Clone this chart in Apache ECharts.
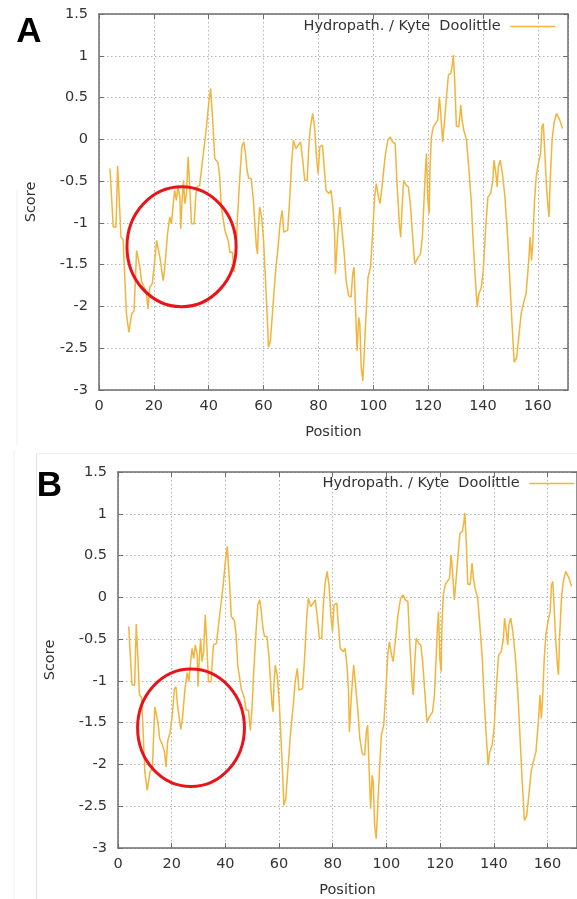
<!DOCTYPE html>
<html>
<head>
<meta charset="utf-8">
<script src="https://cdn.jsdelivr.net/npm/echarts@6/dist/echarts.min.js"></script>
<style>
  html, body { margin: 0; padding: 0; background: #ffffff; }
  #chart { width: 577px; height: 899px; }
</style>
</head>
<body>
<div id="chart"></div>
<script>
// ---- Data ----
const seriesName = 'Hydropath. / Kyte  Doolittle';

const positionsA = [4.0,5.2,6.2,6.8,7.3,8.0,8.8,10.0,10.9,11.9,12.8,13.7,14.3,14.9,15.5,16.5,17.3,17.9,18.5,19.4,20.1,21.0,21.6,22.2,23.4,24.0,25.0,25.8,26.4,27.2,27.6,28.2,28.8,29.5,29.8,30.3,30.8,31.3,31.9,32.5,33.1,33.7,34.7,35.2,35.6,36.7,37.9,39.2,40.0,40.7,41.6,42.2,43.4,44.0,44.6,45.9,47.1,47.7,48.6,49.3,50.0,50.5,51.5,52.1,52.8,53.4,54.0,54.6,55.5,56.3,56.9,57.4,57.8,58.1,58.6,59.3,60.0,60.6,61.3,61.8,62.5,63.4,64.3,65.3,66.0,66.8,67.4,68.1,68.8,69.5,70.3,70.9,71.8,72.5,73.5,74.3,75.0,75.9,76.5,77.1,77.9,78.6,79.3,79.9,80.5,81.5,82.1,82.8,83.8,84.6,85.3,85.9,86.2,87.0,87.8,88.5,89.4,90.1,91.0,91.9,92.5,93.0,93.5,94.1,94.7,95.1,95.6,96.2,96.8,97.5,98.1,99.0,99.9,100.5,101.1,101.9,102.5,103.3,104.3,105.3,106.2,107.0,108.0,108.6,109.5,110.0,110.5,111.1,112.0,112.8,113.5,114.2,115.1,116.0,117.2,117.9,118.4,119.0,119.4,119.9,120.4,120.7,121.2,121.9,122.7,123.5,124.1,124.6,125.3,125.9,126.8,127.4,128.3,128.9,129.2,129.7,130.3,131.2,131.9,132.4,133.0,134.0,134.8,135.7,136.4,137.1,137.9,138.5,139.4,140.1,141.0,141.8,142.8,143.6,144.0,144.7,145.2,145.6,146.3,147.1,148.0,149.0,149.8,150.6,151.4,152.3,153.0,153.9,154.7,155.7,156.6,157.2,157.7,158.2,158.8,159.4,160.2,161.0,161.5,162.0,162.5,163.1,163.7,164.1,164.5,165.2,165.9,166.8,167.4,168.0,169.0];
const scoresA = [-0.35,-1.05,-1.05,-0.32,-0.65,-1.17,-1.20,-2.09,-2.31,-2.09,-2.05,-1.33,-1.31,-1.53,-1.70,-1.77,-1.85,-2.03,-1.77,-1.73,-1.53,-1.21,-1.19,-1.41,-1.69,-1.53,-1.13,-0.93,-1.01,-0.73,-0.61,-0.73,-0.57,-0.69,-1.07,-0.73,-0.49,-0.77,-0.65,-0.21,-0.57,-1.01,-1.01,-0.73,-0.57,-0.55,-0.21,0.15,0.43,0.61,0.15,-0.23,-0.28,-0.45,-0.81,-1.09,-1.21,-1.35,-1.35,-1.59,-1.29,-0.93,-0.37,-0.09,-0.03,-0.17,-0.37,-0.47,-0.47,-0.73,-1.05,-1.29,-1.37,-1.05,-0.81,-0.93,-1.21,-1.61,-2.09,-2.49,-2.41,-2.01,-1.61,-1.29,-1.01,-0.85,-1.11,-1.13,-1.09,-0.73,-0.25,-0.01,-0.11,-0.09,-0.03,-0.25,-0.49,-0.49,-0.09,0.15,0.31,0.15,-0.21,-0.41,-0.09,-0.07,-0.33,-0.61,-0.65,-0.61,-0.81,-1.13,-1.61,-1.15,-0.81,-1.05,-1.37,-1.69,-1.87,-1.89,-1.61,-1.53,-2.01,-2.53,-2.13,-2.21,-2.73,-2.89,-2.49,-2.01,-1.65,-1.53,-1.05,-0.69,-0.53,-0.69,-0.77,-0.53,-0.21,-0.01,0.03,-0.03,-0.05,-0.49,-1.01,-1.17,-0.81,-0.49,-0.55,-0.57,-0.77,-1.09,-1.49,-1.43,-1.37,-1.17,-0.81,-0.37,-0.17,-0.73,-0.89,-0.33,0.03,0.15,0.19,0.23,0.51,0.31,-0.03,0.19,0.55,0.77,0.79,0.91,1.01,0.70,0.16,0.15,0.41,0.23,0.11,-0.01,-0.33,-0.73,-1.21,-1.61,-2.01,-1.85,-1.77,-1.57,-1.05,-0.69,-0.65,-0.49,-0.25,-0.41,-0.57,-0.33,-0.25,-0.41,-0.69,-1.17,-1.69,-2.21,-2.67,-2.61,-2.59,-2.09,-1.97,-1.85,-1.49,-1.17,-1.45,-1.21,-0.73,-0.45,-0.29,-0.17,0.15,0.19,-0.13,-0.53,-0.81,-0.93,-0.49,-0.01,0.19,0.31,0.33,0.23,0.13];

const positionsB = positionsA.slice();
const scoresB = [-0.35,-1.05,-1.05,-0.32,-0.65,-1.17,-1.20,-2.09,-2.31,-2.09,-2.05,-1.31,-1.29,-1.50,-1.69,-1.76,-1.85,-2.03,-1.72,-1.62,-1.45,-1.10,-1.07,-1.30,-1.58,-1.45,-1.08,-0.90,-1.01,-0.73,-0.61,-0.73,-0.57,-0.69,-1.07,-0.73,-0.49,-0.77,-0.65,-0.21,-0.57,-1.01,-1.01,-0.73,-0.57,-0.55,-0.21,0.15,0.43,0.61,0.15,-0.23,-0.28,-0.45,-0.81,-1.09,-1.21,-1.35,-1.35,-1.59,-1.29,-0.93,-0.37,-0.09,-0.03,-0.17,-0.37,-0.47,-0.47,-0.73,-1.05,-1.29,-1.37,-1.05,-0.81,-0.93,-1.21,-1.61,-2.09,-2.49,-2.41,-2.01,-1.61,-1.29,-1.01,-0.85,-1.11,-1.13,-1.09,-0.73,-0.25,-0.01,-0.11,-0.09,-0.03,-0.25,-0.49,-0.49,-0.09,0.15,0.31,0.15,-0.21,-0.41,-0.09,-0.07,-0.33,-0.61,-0.65,-0.61,-0.81,-1.13,-1.61,-1.15,-0.81,-1.05,-1.37,-1.69,-1.87,-1.89,-1.61,-1.53,-2.01,-2.53,-2.13,-2.21,-2.73,-2.89,-2.49,-2.01,-1.65,-1.53,-1.05,-0.69,-0.53,-0.69,-0.77,-0.53,-0.21,-0.01,0.03,-0.03,-0.05,-0.49,-1.01,-1.17,-0.81,-0.49,-0.55,-0.57,-0.77,-1.09,-1.49,-1.43,-1.37,-1.17,-0.81,-0.37,-0.17,-0.73,-0.89,-0.33,0.03,0.15,0.19,0.23,0.51,0.31,-0.03,0.19,0.55,0.77,0.79,0.91,1.01,0.70,0.16,0.15,0.41,0.23,0.11,-0.01,-0.33,-0.73,-1.21,-1.61,-2.01,-1.85,-1.77,-1.57,-1.05,-0.69,-0.65,-0.49,-0.25,-0.41,-0.57,-0.33,-0.25,-0.41,-0.69,-1.17,-1.69,-2.21,-2.67,-2.61,-2.59,-2.09,-1.97,-1.85,-1.49,-1.17,-1.45,-1.21,-0.73,-0.45,-0.29,-0.17,0.15,0.19,-0.13,-0.53,-0.81,-0.93,-0.49,-0.01,0.19,0.31,0.33,0.23,0.13];

// axis ranges / ticks
const xRange = [0, 171];
const xTickStep = 20;
const yRange = [-3, 1.5];
const yTickStep = 0.5;

// annotation ellipses in data units: [centerPos, centerScore, radiusPos, radiusScore]
const circleA = [30.1, -1.285, 19.9, 0.718];
const circleB = [27.2, -1.561, 19.9, 0.704];

// ---- Styles ----
const LINE_COLOR = '#f2b43c';
const AXIS_COLOR = '#6e6e6e';
const TEXT_COLOR = '#333333';
const FONT = 'DejaVu Sans';
const FS = 14.5;

function pairs(xs, ys) { return xs.map((x, i) => [x, ys[i]]); }

function xAxes(gridIndex) {
  const common = {
    gridIndex, type: 'value', min: xRange[0], max: xRange[1], interval: xTickStep,
    axisLine: { show: true, onZero: false, lineStyle: { color: AXIS_COLOR, width: 1.5 } },
    axisTick: { show: true, inside: true, length: 5, lineStyle: { color: AXIS_COLOR, width: 1 } }
  };
  return [
    Object.assign({}, common, {
      position: 'bottom',
      axisLabel: { show: true, margin: 9, color: TEXT_COLOR, fontSize: FS, fontFamily: FONT, showMaxLabel: false },
      splitLine: { show: true, lineStyle: { color: '#b4b4b4', type: [1.5, 2.5], width: 1 } },
      name: 'Position', nameLocation: 'middle', nameGap: 35,
      nameTextStyle: { color: TEXT_COLOR, fontSize: FS, fontFamily: FONT }
    }),
    Object.assign({}, common, {
      position: 'top',
      axisLabel: { show: false },
      splitLine: { show: false }
    })
  ];
}

function yAxes(gridIndex) {
  const common = {
    gridIndex, type: 'value', min: yRange[0], max: yRange[1], interval: yTickStep,
    axisLine: { show: true, onZero: false, lineStyle: { color: AXIS_COLOR, width: 1.5 } },
    axisTick: { show: true, inside: true, length: 5, lineStyle: { color: AXIS_COLOR, width: 1 } }
  };
  return [
    Object.assign({}, common, {
      position: 'left',
      axisLabel: { show: true, margin: 11, color: TEXT_COLOR, fontSize: FS, fontFamily: FONT },
      splitLine: { show: true, lineStyle: { color: '#b4b4b4', type: [1.5, 2.5], width: 1 } },
      name: 'Score', nameLocation: 'middle', nameGap: 60, nameRotate: 90,
      nameTextStyle: { color: TEXT_COLOR, fontSize: FS, fontFamily: FONT }
    }),
    Object.assign({}, common, {
      position: 'right',
      axisLabel: { show: false },
      splitLine: { show: false }
    })
  ];
}

function legend(right, top) {
  return {
    data: [seriesName], right, top, orient: 'horizontal', align: 'right',
    itemWidth: 45, itemHeight: 14, padding: 0,
    formatter: (n) => n + ' ',
    itemStyle: { opacity: 0 },
    lineStyle: { color: LINE_COLOR, width: 1.5 },
    textStyle: { color: TEXT_COLOR, fontSize: FS, fontFamily: FONT },
    selectedMode: false
  };
}

const chart = echarts.init(document.getElementById('chart'), null, { renderer: 'canvas' });

const option = {
  animation: false,
  backgroundColor: '#ffffff',
  grid: [
    { left: 99, top: 14, width: 469, height: 376 },
    { left: 118, top: 472, width: 469, height: 377 }
  ],
  xAxis: xAxes(0).concat(xAxes(1)),
  yAxis: yAxes(0).concat(yAxes(1)),
  legend: [legend(21, 19), legend(2, 476)],
  series: [
    {
      name: seriesName, type: 'line', xAxisIndex: 0, yAxisIndex: 0,
      data: pairs(positionsA, scoresA), symbol: 'none', showSymbol: false,
      lineStyle: { color: LINE_COLOR, width: 1.5 }, itemStyle: { color: LINE_COLOR }
    },
    {
      name: seriesName, type: 'line', xAxisIndex: 2, yAxisIndex: 2,
      data: pairs(positionsB, scoresB), symbol: 'none', showSymbol: false,
      lineStyle: { color: LINE_COLOR, width: 1.5 }, itemStyle: { color: LINE_COLOR }
    }
  ]
};
chart.setOption(option);

function ellipseFor(gridIndex, c) {
  const finder = { xAxisIndex: gridIndex * 2, yAxisIndex: gridIndex * 2 };
  const ctr = chart.convertToPixel(finder, [c[0], c[1]]);
  const ex = chart.convertToPixel(finder, [c[0] + c[2], c[1] + c[3]]);
  return {
    type: 'ellipse',
    shape: { cx: ctr[0], cy: ctr[1], rx: Math.abs(ex[0] - ctr[0]), ry: Math.abs(ex[1] - ctr[1]) },
    style: { fill: null, stroke: '#e8141a', lineWidth: 3 },
    z: 100
  };
}

chart.setOption({
  graphic: [
    // faint screenshot panel borders
    { type: 'line', shape: { x1: 17, y1: 190, x2: 17, y2: 445 }, style: { stroke: '#efefef', lineWidth: 1 }, z: 0 },
    { type: 'line', shape: { x1: 14, y1: 450, x2: 14, y2: 899 }, style: { stroke: '#efefef', lineWidth: 1 }, z: 0 },
    { type: 'line', shape: { x1: 36.5, y1: 453, x2: 36.5, y2: 899 }, style: { stroke: '#e6e6e6', lineWidth: 1 }, z: 0 },
    { type: 'line', shape: { x1: 36, y1: 453.5, x2: 577, y2: 453.5 }, style: { stroke: '#efefef', lineWidth: 1 }, z: 0 },
    // panel letters
    { type: 'text', x: 29, y: 32, style: { text: 'A', font: 'bold 35px "Liberation Sans", Arial, sans-serif', fill: '#000', textAlign: 'center', textVerticalAlign: 'middle' }, z: 100 },
    { type: 'text', x: 49.5, y: 486.5, style: { text: 'B', font: 'bold 35px "Liberation Sans", Arial, sans-serif', fill: '#000', textAlign: 'center', textVerticalAlign: 'middle' }, z: 100 },
    ellipseFor(0, circleA),
    ellipseFor(1, circleB)
  ]
});
</script>
</body>
</html>
